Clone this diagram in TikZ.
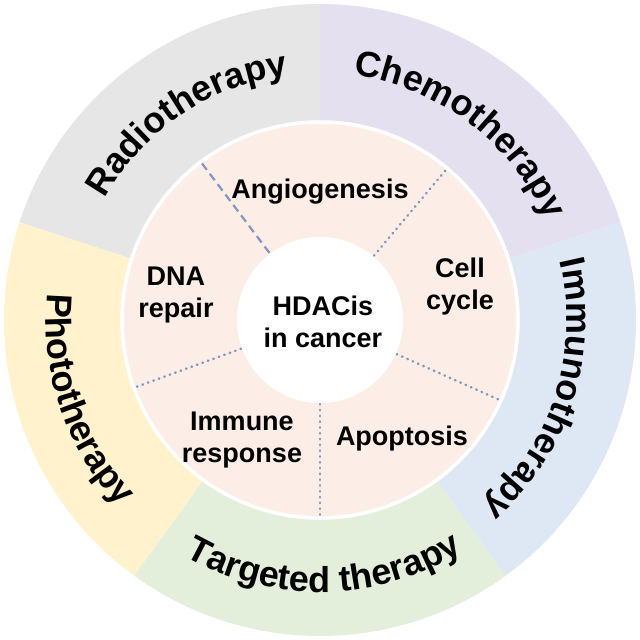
\documentclass[tikz,border=0pt]{standalone}
\usepackage{fontspec}
\setmainfont{Liberation Sans}
\usetikzlibrary{decorations.text}

\definecolor{radiogray}{HTML}{E6E6E6}
\definecolor{chemolilac}{HTML}{E5E0F0}
\definecolor{immunoblue}{HTML}{DEE8F5}
\definecolor{targetgreen}{HTML}{E3EFDB}
\definecolor{photoyellow}{HTML}{FFF2CC}
\definecolor{innerpeach}{HTML}{FCEEE6}
\definecolor{divblue}{HTML}{8496BE}

\newcommand{\ringfont}{\fontsize{36}{36}\selectfont\bfseries}

\begin{document}
\begin{tikzpicture}[x=1pt,y=1pt]
	\tikzset{
	  InnerLabel/.style = { align=center, inner sep=0pt,
	                        font=\fontsize{27}{32}\selectfont\bfseries },
	  DotLine/.style = { divblue, line width=2.5pt, line cap=round,
	                     dash pattern=on 0.6pt off 5.2pt },
	  DashLine/.style = { divblue, line width=2.2pt, dash pattern=on 8pt off 5pt },
	  RingText/.style = { decorate,
	                      decoration={text along path, text align=center,
	                                  text={|\ringfont|#1}} } }
	\useasboundingbox (-320,-320) rectangle (320,320);
	% outer ring of therapies
	\foreach \ang/\col in {90/radiogray, 162/photoyellow, 234/targetgreen,
	                       306/immunoblue, 18/chemolilac}
	  \fill[\col] (0,0) -- (\ang:316) arc[start angle=\ang, delta angle=72,
	                                      radius=316] -- cycle;
	% inner ring of processes
	\draw[white, line width=3.5pt, fill=innerpeach] (0,0) circle (198);
	\draw[DashLine] (127:84) -- (127:197);
	\foreach \ang in {50,-24,-90,-160}
	  \draw[DotLine] (\ang:84) -- (\ang:197);
	\fill[white] (0,0) circle (83);
	% labels
	\node[InnerLabel] (hdac)    at (3,-2)     {HDACis\\in cancer};
	\node[InnerLabel] (angio)   at (0,128)    {Angiogenesis};
	\node[InnerLabel] (cellcyc) at (140,33)   {Cell\\cycle};
	\node[InnerLabel] (apopt)   at (82,-119)  {Apoptosis};
	\node[InnerLabel] (immresp) at (-78,-120) {Immune\\response};
	\node[InnerLabel] (dnarep)  at (-144,25)  {DNA\\repair};
	\path[RingText=Radiotherapy]
	  (184:247) arc[start angle=184, end angle=64, radius=247];
	\path[RingText=Chemotherapy]
	  (113:247) arc[start angle=113, end angle=-7, radius=247];
	\path[RingText=Immunotherapy]
	  (42.5:247) arc[start angle=42.5, end angle=-77.5, radius=247];
	\path[RingText=Targeted therapy]
	  (-149:272) arc[start angle=-149, end angle=-29, radius=272];
	\path[RingText=Phototherapy]
	  (138.7:274) arc[start angle=138.7, end angle=258.7, radius=274];
\end{tikzpicture}
\end{document}
